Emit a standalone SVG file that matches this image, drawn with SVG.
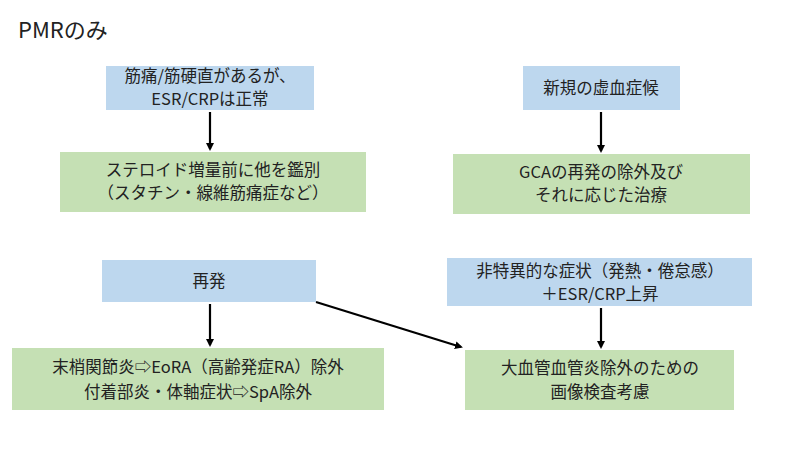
<svg xmlns="http://www.w3.org/2000/svg" width="800" height="462" viewBox="0 0 800 462">
<style>
.b{fill:#bdd7ee}.g{fill:#c5e0b4}
text{font-family:"Noto Sans CJK JP","Noto Sans",sans-serif;font-size:16.5px;fill:#222;text-anchor:middle}
.c line{stroke:#000;stroke-width:2.2;marker-end:url(#a)}
</style>
<defs><marker id="a" markerWidth="8" markerHeight="8" refX="6" refY="4" orient="auto" markerUnits="userSpaceOnUse"><path d="M0,0L8,4L0,8z" fill="#000"/></marker></defs>
<rect width="800" height="462" fill="#fff"/>
<text x="18" y="38" style="font-size:22px;text-anchor:start">PMRのみ</text>
<g id="n1"><rect class="b" x="106" y="66" width="208" height="44"/><text x="210" y="82">筋痛/筋硬直があるが、</text><text x="210" y="105">ESR/CRPは正常</text></g>
<g id="n2"><rect class="g" x="60" y="152" width="306" height="60"/><text x="213" y="176">ステロイド増量前に他を鑑別</text><text x="213" y="199">（スタチン・線維筋痛症など）</text></g>
<g id="n3"><rect class="b" x="523" y="66" width="157" height="44"/><text x="601" y="94">新規の虚血症候</text></g>
<g id="n4"><rect class="g" x="453" y="154" width="297" height="60"/><text x="601" y="178">GCAの再発の除外及び</text><text x="601" y="201">それに応じた治療</text></g>
<g id="n5"><rect class="b" x="102" y="260" width="214" height="42"/><text x="209" y="287">再発</text></g>
<g id="n6"><rect class="g" x="12" y="348" width="372" height="62"/><text x="198" y="373">末梢関節炎⇨EoRA（高齢発症RA）除外</text><text x="198" y="398">付着部炎・体軸症状⇨SpA除外</text></g>
<g id="n7"><rect class="b" x="447" y="258" width="305" height="48"/><text x="600" y="277">非特異的な症状（発熱・倦怠感）</text><text x="600" y="300">＋ESR/CRP上昇</text></g>
<g id="n8"><rect class="g" x="465" y="350" width="269" height="60"/><text x="600" y="374">大血管血管炎除外のための</text><text x="600" y="398">画像検査考慮</text></g>
<g class="c">
<line x1="210" y1="112" x2="210" y2="149"/>
<line x1="601" y1="112" x2="601" y2="151"/>
<line x1="210" y1="304" x2="210" y2="345"/>
<line x1="601" y1="308" x2="601" y2="347"/>
<line x1="316" y1="302" x2="461" y2="347"/>
</g>
</svg>
